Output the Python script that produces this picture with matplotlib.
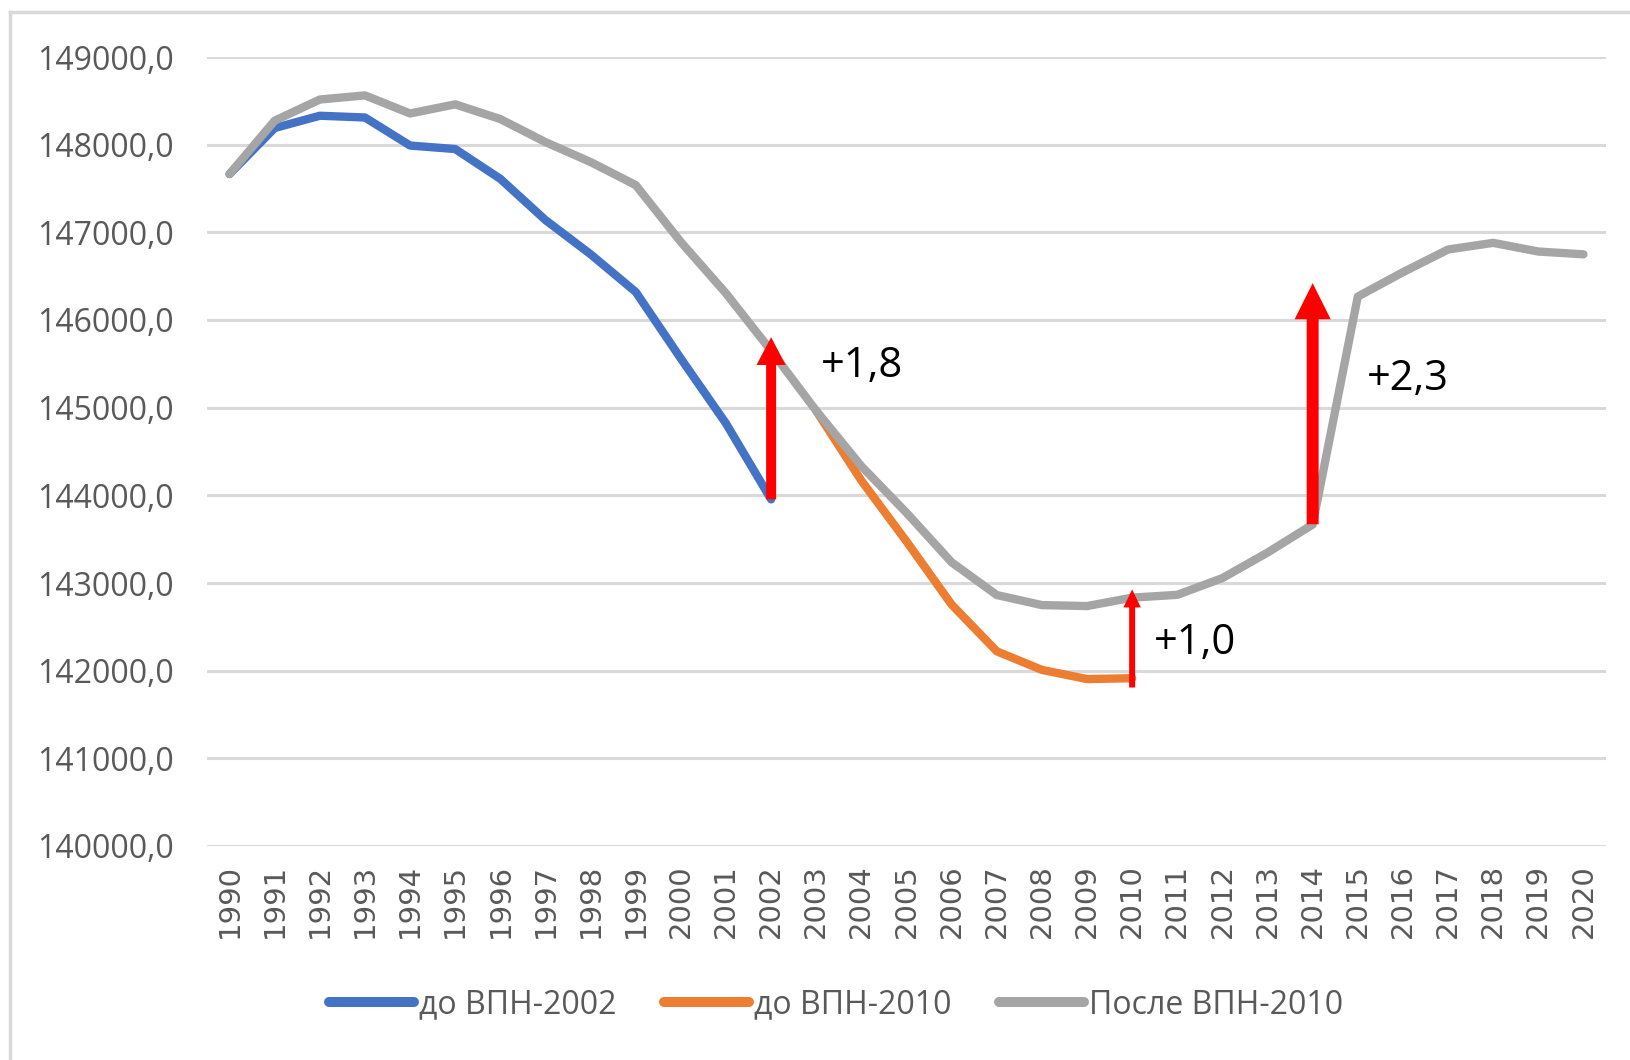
import matplotlib
matplotlib.use("Agg")
import matplotlib.pyplot as plt
from matplotlib.lines import Line2D
from matplotlib.patches import FancyArrowPatch, ArrowStyle
from matplotlib.ticker import FuncFormatter, MultipleLocator

# данные: численность населения, тыс. чел.
years = list(range(1990, 2021))
years_2002 = list(range(1990, 2003))
years_2010 = list(range(2003, 2011))

do_vpn2002 = [147665, 148190, 148330, 148310, 147990, 147950, 147610,
              147140, 146750, 146320, 145560, 144820, 143954]
do_vpn2010 = [144964, 144168, 143474, 142754, 142221, 142009, 141904, 141914]
posle_vpn2010 = [147665, 148274, 148515, 148562, 148356, 148460, 148292,
                 148029, 147802, 147539, 146890, 146304, 145649, 144964,
                 144333, 143801, 143236, 142863, 142748, 142737, 142833,
                 142865, 143056, 143347, 143667, 146267, 146545, 146804,
                 146880, 146781, 146749]

series_labels = ['до ВПН-2002', 'до ВПН-2010', 'После ВПН-2010']
colors = ['#4472C4', '#ED7D31', '#A5A5A5']

# поправки после переписей
arrow_years = [2002, 2010, 2014]
arrow_from = [143954, 141808, 143670]
arrow_to = [145804, 142927, 146420]
arrow_text = ['+1,8', '+1,0', '+2,3']

W, H = 1631, 1060
fig = plt.figure(figsize=(W / 100, H / 100), dpi=100)
ax = fig.add_axes([207 / W, 1 - 846 / H, (1606 - 207) / W, (846 - 57) / H])

lw = 6
ax.plot(years_2002, do_vpn2002, color=colors[0], lw=lw, label=series_labels[0],
        solid_capstyle='round', solid_joinstyle='round', zorder=3)
ax.plot(years_2010, do_vpn2010, color=colors[1], lw=lw, label=series_labels[1],
        solid_capstyle='round', solid_joinstyle='round', zorder=3)
ax.plot(years, posle_vpn2010, color=colors[2], lw=lw, label=series_labels[2],
        solid_capstyle='round', solid_joinstyle='round', zorder=4)

# стрелки (толщина стержня, ширина и длина наконечника в пунктах)
arrow_sizes = [(7.2, 21, 20), (4.3, 12.5, 13), (8.6, 26, 26)]
for yr, y0, y1, (tw, hw, hl) in zip(arrow_years, arrow_from, arrow_to, arrow_sizes):
    arr = FancyArrowPatch((yr, y0), (yr, y1),
                          arrowstyle=ArrowStyle.Simple(head_length=hl, head_width=hw, tail_width=tw),
                          mutation_scale=1, fc='#FF0000', ec='none',
                          shrinkA=0, shrinkB=0, zorder=6)
    ax.add_patch(arr)

text_pos = [(2003.1, 145347), (2010.49, 142185), (2015.2, 145199)]
for (tx, ty), s in zip(text_pos, arrow_text):
    ax.text(tx, ty, s, fontsize=30, family='Open Sans', color='black',
            ha='left', va='baseline', zorder=7)

ax.set_xlim(1989.5, 2020.5)
ax.set_ylim(140000, 149000)
ax.yaxis.set_major_locator(MultipleLocator(1000))
ax.yaxis.set_major_formatter(FuncFormatter(lambda v, p: f"{v:.1f}".replace('.', ',')))
ax.set_xticks(years)
ax.set_xticklabels([str(y) for y in years], rotation=90, fontsize=21,
                   family='DejaVu Sans', color='#595959')
for lab in ax.get_yticklabels():
    lab.set_family('Open Sans')
    lab.set_fontsize(23)
    lab.set_color('#595959')
ax.tick_params(axis='both', length=0)
ax.tick_params(axis='y', pad=24)
ax.tick_params(axis='x', pad=13)

ax.grid(axis='y', color='#D9D9D9', lw=2.2)
ax.set_axisbelow(True)
for sp in ax.spines.values():
    sp.set_visible(False)

leg = fig.legend(loc='center', bbox_to_anchor=(836 / W, 1 - 1005 / H), ncol=3,
                 frameon=False, prop={'family': 'Open Sans', 'size': 23},
                 labelcolor='#595959', handlelength=2.65, handletextpad=0.16,
                 columnspacing=1.5, borderpad=0)
for h in leg.get_lines():
    h.set_linewidth(7.2)

# рамка области диаграммы
fig.add_artist(Line2D([10 / W, 1], [1 - 12 / H, 1 - 12 / H], transform=fig.transFigure,
                      color='#D9D9D9', lw=2.5))
fig.add_artist(Line2D([10 / W, 10 / W], [0, 1 - 12 / H], transform=fig.transFigure,
                      color='#D9D9D9', lw=2.5))

fig.savefig('out.png', dpi=100)
